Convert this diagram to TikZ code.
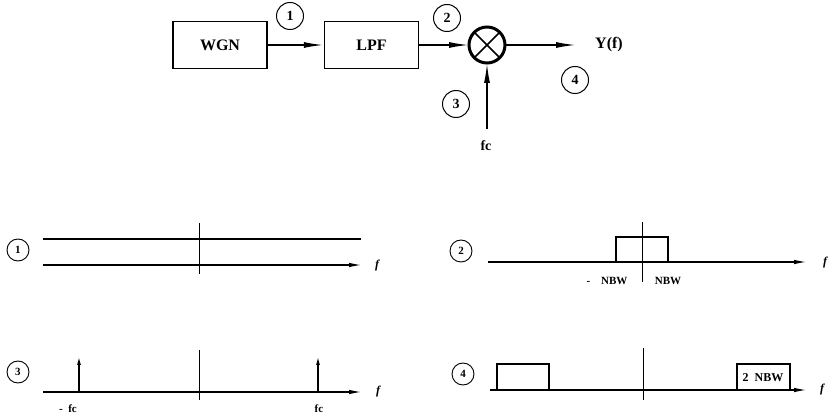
\documentclass[tikz,border=0pt]{standalone}
\usepackage{fontspec}
\setmainfont{Liberation Serif}
\usetikzlibrary{arrows.meta,positioning}

\begin{document}
\begin{tikzpicture}[
  x=1pt, y=-1pt,
  blk/.style={draw, line width=1.6pt, minimum width=94pt, minimum height=47pt,
              font=\fontsize{16}{18}\selectfont\bfseries},
  num/.style={draw, circle, line width=1pt, minimum size=27pt, inner sep=0pt,
              font=\fontsize{14}{16}\selectfont\bfseries},
  snum/.style={draw, circle, line width=0.9pt, minimum size=22pt, inner sep=0pt,
               font=\fontsize{11}{13}\selectfont\bfseries},
  ar/.style={-{Latex[length=20pt,width=6pt]}, line width=1.6pt},
  ax/.style={-{Latex[length=13pt,width=4.5pt]}, line width=1.4pt},
  imp/.style={-{Latex[length=8pt,width=4pt]}, line width=1.2pt},
  zl/.style={line width=0.8pt},
  lbl/.style={font=\fontsize{11}{13}\selectfont\bfseries, inner sep=1pt},
  fl/.style={font=\fontsize{12}{14}\selectfont\bfseries\itshape, inner sep=1pt},
  node distance=56pt
]
\useasboundingbox (0,0) rectangle (830,419);

% system
\node[blk] (wgn) at (220,45) {WGN};
\node[blk, right=56pt of wgn] (lpf) {LPF};
\node[draw, circle, line width=3pt, outer sep=0pt, minimum size=36pt,
      inner sep=0pt] (mix) at (487,45) {};
\draw[line width=1.6pt] (mix.45) -- (mix.225) (mix.135) -- (mix.315);
\node[font=\fontsize{16}{18}\selectfont\bfseries, anchor=west,
      inner sep=0pt] (yf) at (595,45) {Y(f)};
\coordinate (yend) at (576,45);
\node[font=\fontsize{14}{16}\selectfont\bfseries] (fc) at (486,146) {fc};
\coordinate (fcin) at (487,129);

\draw[ar] (wgn) -- (lpf);
\draw[ar] (lpf) -- (mix);
\draw[ar] (mix) -- (yend);
\draw[ar] (fcin) -- (mix);

\node[num] (n1) at (290,16) {1};
\node[num] (n2) at (447,18) {2};
\node[num] (n3) at (456,104) {3};
\node[num] (n4) at (575,80) {4};

% spectrum 1
\node[snum] (s1) at (18,250) {1};
\draw[line width=1.4pt] (43,239) -- (361,239);
\draw[ax] (43,265) -- (362,265);
\draw[zl] (199,223) -- (199,274);
\node[fl] at (377,266) {f};

% spectrum 2
\node[snum] (s2) at (461,251) {2};
\draw[ax] (488,262) -- (807,262);
\draw[zl] (642,222) -- (642,282);
\draw[line width=1.2pt] (616,262) -- (616,237) -- (668,237) -- (668,262);
\node[lbl] at (607,281) {-\quad NBW};
\node[lbl] at (668,281) {NBW};
\node[fl] at (825,263) {f};

% spectrum 3
\node[snum] (s3) at (18,372) {3};
\draw[ax] (43,392) -- (362,392);
\draw[zl] (199,350) -- (199,400);
\draw[imp] (79,392) -- (79,357);
\draw[imp] (318,392) -- (318,357);
\node[lbl] at (68,409) {-\enspace fc};
\node[lbl] at (319,409) {fc};
\node[fl] at (378,392) {f};

% spectrum 4
\node[snum] (s4) at (463,374) {4};
\draw[ax] (490,390) -- (807,390);
\draw[zl] (643,348) -- (643,400);
\draw[line width=1.2pt] (497,390) -- (497,364) -- (549,364) -- (549,390);
\draw[line width=1.2pt] (737,390) -- (737,364) -- (790,364) -- (790,390);
\node[font=\fontsize{12}{14}\selectfont\bfseries] at (763,378) {2\enspace NBW};
\node[fl] at (822,390) {f};
\end{tikzpicture}
\end{document}
